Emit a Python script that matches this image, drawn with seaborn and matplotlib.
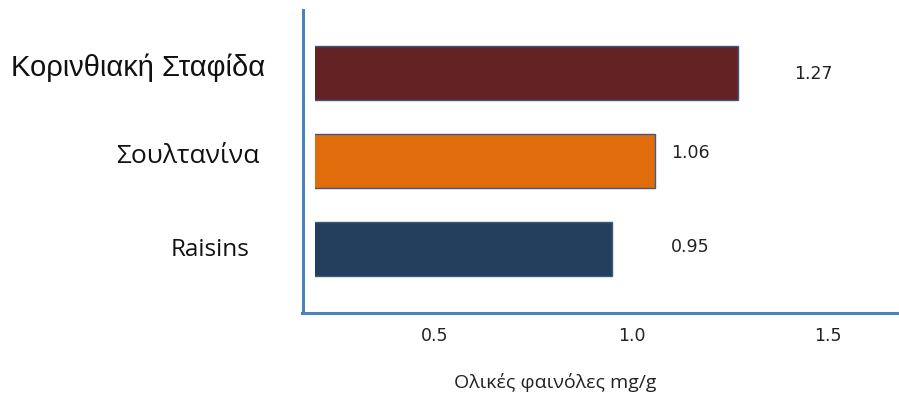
import matplotlib
matplotlib.use("Agg")
import matplotlib.pyplot as plt
import matplotlib.transforms as mtransforms
import seaborn as sns
import pandas as pd

categories = ["Κορινθιακή Σταφίδα", "Σουλτανίνα", "Raisins"]
values = [1.27, 1.06, 0.95]
value_labels = ["1.27", "1.06", "0.95"]
colors = ["#632324", "#E06C0C", "#243F5E"]
xticks = [0.5, 1.0, 1.5]
xtick_labels = ["0.5", "1.0", "1.5"]
xlabel = "Ολικές φαινόλες mg/g"

sns.set_theme(style="white")
plt.rcParams['font.family'] = ['DejaVu Sans']

df = pd.DataFrame({"cat": categories, "val": values})

fig = plt.figure(figsize=(8.99, 3.94), dpi=100)
ax = fig.add_axes([315/899, 81/394, 1 - 315/899, 303/394])

sns.barplot(data=df, x="val", y="cat", hue="cat", palette=colors, legend=False,
            orient="h", width=0.61, saturation=1, edgecolor="#3E5A80",
            linewidth=1.0, ax=ax)

x0 = 0.195
x1 = 1.68
ax.set_xlim(x0, x1)
ax.set_ylim(2.727, -0.716)

# spines first (set_position resets ticks)
for s in ["top", "right"]:
    ax.spines[s].set_visible(False)
for s in ["left", "bottom"]:
    ax.spines[s].set_color("#4F81BD")
    ax.spines[s].set_linewidth(2.2)
ax.spines["left"].set_position(("outward", 12 * 0.72))
ax.spines["bottom"].set_bounds(x0 - 13/393, x1)

ax.set_xticks(xticks)
ax.set_xticklabels(xtick_labels, fontsize=12.5, color="#222222")
ax.tick_params(axis="x", length=0, pad=10)
ax.tick_params(axis="y", length=0, pad=27, labelcolor="#111111")
ax.set_ylabel("")
ax.set_xlabel(xlabel, fontsize=14, color="#222222", family=["Open Sans", "DejaVu Sans"])
ax.xaxis.set_label_coords((555 - 315) / (899 - 315), -0.198)

ylabs = ax.get_yticklabels()
fams = [["Liberation Sans", "DejaVu Sans"], ["Open Sans", "DejaVu Sans"], ["Open Sans", "DejaVu Sans"]]
sizes = [21, 19, 17.5]
shifts = [(0, 8), (-6, 8), (-16, 2)]
for lab, fam, sz, (dx, dy) in zip(ylabs, fams, sizes, shifts):
    lab.set_fontfamily(fam)
    lab.set_fontsize(sz)
    lab.set_transform(lab.get_transform() +
                      mtransforms.ScaledTranslation(dx/100, dy/100, fig.dpi_scale_trans))

label_x = [1.462, 1.149, 1.149]
label_dy = [-1, 8, 2]
for i, (lx, lab, dy) in enumerate(zip(label_x, value_labels, label_dy)):
    ax.annotate(lab, (lx, i), xytext=(0, dy * 0.72), textcoords="offset points",
                fontsize=12.5, color="#222222", va="center", ha="center")

fig.savefig("out.png", dpi=100)
